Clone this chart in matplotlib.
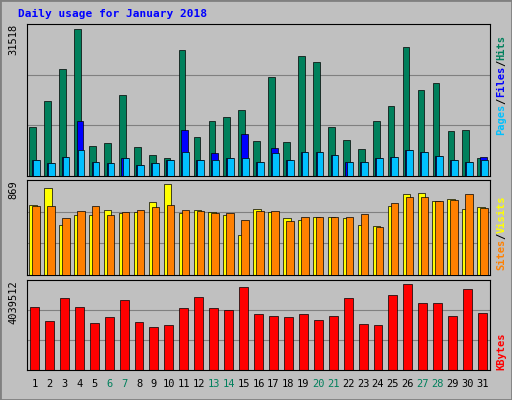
import matplotlib
matplotlib.use("Agg")
import matplotlib.pyplot as plt
import numpy as np

days = list(range(1, 32))
weekends = [6, 7, 13, 14, 20, 21, 27, 28]
hits_px = [127,101,69,29,146,143,95,147,155,158,50,137,121,117,110,141,77,142,56,62,127,140,149,121,106,47,90,83,131,130,158]
files_px = [160,163,157,121,162,163,158,165,163,160,130,160,153,158,134,162,148,160,152,152,155,162,162,158,157,150,152,156,160,162,157]
pages_px = [160,163,157,150,162,163,158,165,163,160,152,160,160,158,158,162,153,160,152,152,155,162,162,158,157,150,152,156,160,162,160]
visits_px = [205,188,225,215,215,210,213,212,202,184,213,210,212,215,235,209,212,218,220,217,217,218,225,226,206,194,193,201,199,209,207]
sites_px = [206,206,218,211,206,215,212,210,207,205,210,211,213,213,220,211,211,221,217,217,217,217,214,227,203,197,197,201,200,194,208]
kb_px = [307,321,298,307,323,317,300,322,327,325,308,297,308,310,287,314,316,317,314,320,316,298,324,325,295,284,303,303,316,289,313]

hits = [(176 - y) / 148 * 31518 for y in hits_px]
files = [(176 - y) / 148 * 31518 for y in files_px]
pages = [(176 - y) / 148 * 31518 for y in pages_px]
visits = [(275 - y) / 91 * 869 for y in visits_px]
sites = [(275 - y) / 91 * 869 for y in sites_px]
kbytes = [(370 - y) / 86 * 4039512 for y in kb_px]

BG = "#C0C0C0"
W, H = 512, 400
fig = plt.figure(figsize=(5.12, 4.0), dpi=100, facecolor=BG)
# 3D border
fig.add_artist(plt.Rectangle((0, 0), 1, 1, transform=fig.transFigure, fill=False, ec="#808080", lw=2))

def ax_at(top, bottom, left=27, right=490):
    return fig.add_axes([left / W, 1 - bottom / H, (right - left) / W, (bottom - top) / H])

x = np.array(days)
mono = "DejaVu Sans Mono"

def style(ax, ymax, label):
    ax.set_facecolor(BG)
    ax.set_xlim(0.5, 31.5)
    ax.set_ylim(0, ymax * 1.0)
    ax.set_xticks([])
    ax.set_yticks([])
    for s in ax.spines.values():
        s.set_color("black"); s.set_linewidth(0.8)
    for f in (1/3, 2/3):
        ax.axhline(ymax * f, color="#808080", lw=0.8, zorder=0)
    ax.text(-0.03, 1.0, label, transform=ax.transAxes, rotation=90, ha="center", va="top",
            fontsize=7.5, family=mono)

ax1 = ax_at(24, 176)
style(ax1, 31518 * 148 / 148 * 1.03, "31518")
ax1.bar(x - 0.12, hits, 0.45, color="#00805C", ec="black", lw=0.5, zorder=2)
ax1.bar(x + 0.05, files, 0.45, color="#0000FF", ec="black", lw=0.5, zorder=3)
ax1.bar(x + 0.12, pages, 0.45, color="#00C0FF", ec="black", lw=0.5, zorder=4)

ax2 = ax_at(180, 275)
style(ax2, 869 * 1.04, "869")
ax2.bar(x - 0.1, visits, 0.5, color="#FFFF00", ec="black", lw=0.5, zorder=2)
ax2.bar(x + 0.1, sites, 0.5, color="#FF8000", ec="black", lw=0.5, zorder=3)

ax3 = ax_at(280, 370)
style(ax3, 4039512 * 1.05, "4039512")
ax3.bar(x, kbytes, 0.6, color="#FF0000", ec="black", lw=0.5, zorder=2)

for d in days:
    ax3.text(d, -0.1, str(d), transform=ax3.get_xaxis_transform(), ha="center", va="top",
             fontsize=7.5, family=mono, color="#00805C" if d in weekends else "black")

fig.text(18 / W, 1 - 14 / H, "Daily usage for January 2018", color="#0000FF",
         fontsize=8, fontweight="bold", family=mono, va="center")

def right_label(ax, parts):
    y = 0.02
    for t, c in parts:
        tx = ax.text(1.025, y, t, transform=ax.transAxes, rotation=90, ha="center", va="bottom",
                     fontsize=7.5, family=mono, color=c, fontweight="bold")
        y += len(t) * 0.0
    return

def stacked(ax, parts, start):
    # place text parts from bottom upward
    fig.canvas.draw()
    r = fig.canvas.get_renderer()
    y = start
    for t, c in parts:
        tx = ax.text(1.025, y, t, transform=ax.transAxes, rotation=90, ha="center", va="bottom",
                     fontsize=7.5, family=mono, color=c, fontweight="bold")
        bb = tx.get_window_extent(r).transformed(ax.transAxes.inverted())
        y += bb.height

stacked(ax1, [("Pages", "#00C0FF"), ("/", "black"), ("Files", "#0000FF"), ("/", "black"), ("Hits", "#00805C")], 0.27)
stacked(ax2, [("Sites", "#FF8000"), ("/", "black"), ("Visits", "#FFFF00")], 0.05)
stacked(ax3, [("KBytes", "#FF0000")], 0.0)

fig.savefig("out.png", dpi=100, facecolor=BG)
